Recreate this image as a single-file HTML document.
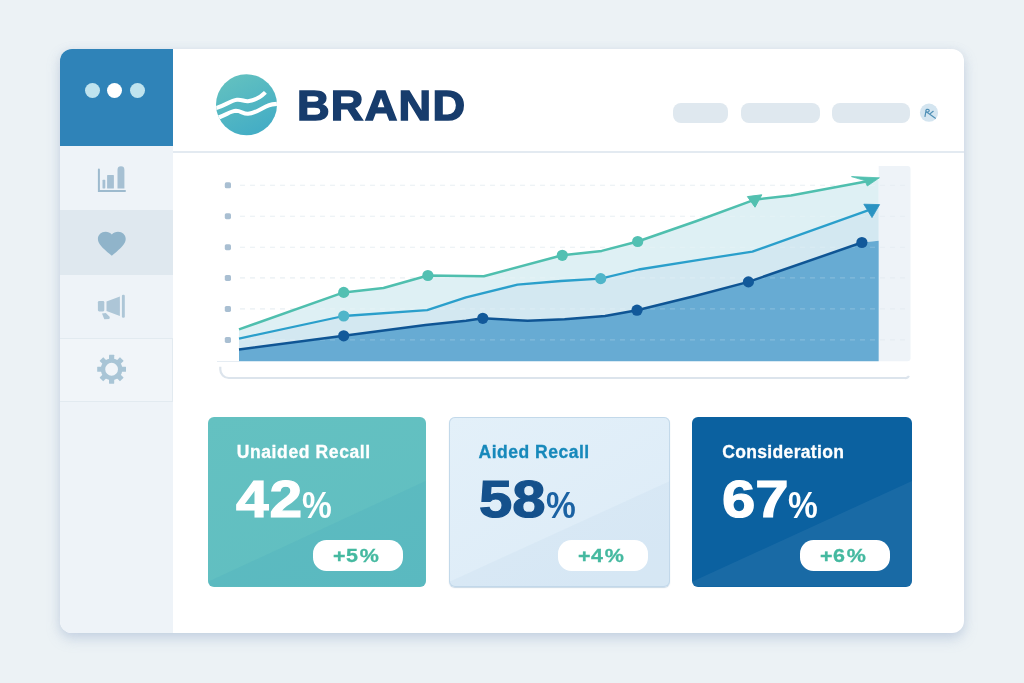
<!DOCTYPE html>
<html lang="en">
<head>
<meta charset="utf-8">
<title>Brand Dashboard</title>
<style>
*{box-sizing:border-box;margin:0;padding:0}
html,body{width:1024px;height:683px;overflow:hidden}
body{background:#ecf2f5;font-family:"Liberation Sans",sans-serif;position:relative}
.abs{position:absolute}
#win{left:60px;top:49px;width:904px;height:584px;background:#fff;border-radius:12px;box-shadow:0 6px 13px rgba(140,165,200,.34),0 1px 8px rgba(180,195,218,.26);overflow:hidden}
#side{left:0;top:0;width:112.5px;height:584px;background:#eef3f8}
#sidetop{left:0;top:0;width:112.5px;height:96.5px;background:#2f83b8}
.dot{width:15px;height:15px;border-radius:50%;top:34px;background:#bfe3ee}
#sel{left:0;top:161px;width:112.5px;height:65px;background:#dfe8ef}
#hline{left:112.5px;top:102px;width:792px;height:2px;background:#e3eaf1}
.pill{top:53.5px;height:20.5px;border-radius:8px;background:#dfe8ef}
#brand{font-weight:bold;font-size:43px;line-height:50px;color:#173c6c;letter-spacing:1.2px;white-space:nowrap;transform-origin:0 50%;transform:scaleX(1.05);-webkit-text-stroke:1.5px #173c6c}
.card{top:417px;width:218px;height:169.5px;border-radius:6px;overflow:hidden}
.card::before{content:'';position:absolute;left:0;top:0;right:0;bottom:0;clip-path:polygon(0 165px,100% 64px,100% 100%,0 100%);background:var(--ov)}
.card .t{position:absolute;left:30px;top:24.3px;font-weight:bold;font-size:17.5px;line-height:22px;white-space:nowrap;letter-spacing:.38px;transform-origin:0 50%;-webkit-text-stroke:.3px currentColor}
.card .n{position:absolute;left:28.5px;top:54.7px;font-weight:bold;font-size:51px;line-height:56px;white-space:nowrap;transform-origin:0 50%;transform:scaleX(1.16);-webkit-text-stroke:1.2px currentColor}
.card .p{position:absolute;left:94.5px;top:68.5px;font-weight:bold;font-size:36px;line-height:40px;white-space:nowrap;transform-origin:0 50%;transform:scaleX(.93)}
.badge{position:absolute;top:123px;width:90px;height:31px;border-radius:13.5px;background:#fff}
.badge span{position:absolute;left:20px;top:0;color:#45b9a0;font-weight:bold;font-size:18.5px;line-height:31px;white-space:nowrap;letter-spacing:.3px;transform-origin:0 50%;transform:scaleX(1.16);-webkit-text-stroke:.3px #45b9a0}
.badge i{font-style:normal;margin-left:1.4px}
</style>
</head>
<body>
<div id="win" class="abs">
  <div id="side" class="abs"></div>
  <div id="sidetop" class="abs"></div>
  <div class="abs dot" style="left:25px"></div>
  <div class="abs dot" style="left:47px;background:#fff"></div>
  <div class="abs dot" style="left:69.5px"></div>
  <div id="sel" class="abs"></div>
  <div class="abs" style="left:0;top:288.5px;width:112.5px;height:64px;background:rgba(255,255,255,.18);border:1px solid rgba(214,224,234,.55);border-left:0"></div>
  <div id="hline" class="abs"></div>
  <div class="abs pill" style="left:612.5px;width:55.5px"></div>
  <div class="abs pill" style="left:681px;width:78.5px"></div>
  <div class="abs pill" style="left:771.5px;width:78.5px"></div>
</div>
<!--CHART-->
<svg class="abs" style="left:0;top:0" width="1024" height="683" viewBox="0 0 1024 683">
<path d="M878.7 166H907.5a3 3 0 0 1 3 3V358.3a3 3 0 0 1-3 3H878.7Z" fill="#eef3f8"/>
<line x1="240" y1="185.3" x2="906" y2="185.3" stroke="#e6edf2" stroke-width="1.1" stroke-dasharray="5 5"/>
<rect x="224.8" y="182.3" width="6.2" height="6" rx="1.6" fill="#a9bfd2"/>
<line x1="240" y1="216.2" x2="906" y2="216.2" stroke="#e6edf2" stroke-width="1.1" stroke-dasharray="5 5"/>
<rect x="224.8" y="213.2" width="6.2" height="6" rx="1.6" fill="#a9bfd2"/>
<line x1="240" y1="247.2" x2="906" y2="247.2" stroke="#e6edf2" stroke-width="1.1" stroke-dasharray="5 5"/>
<rect x="224.8" y="244.2" width="6.2" height="6" rx="1.6" fill="#a9bfd2"/>
<line x1="240" y1="277.9" x2="906" y2="277.9" stroke="#e6edf2" stroke-width="1.1" stroke-dasharray="5 5"/>
<rect x="224.8" y="274.9" width="6.2" height="6" rx="1.6" fill="#a9bfd2"/>
<line x1="240" y1="308.9" x2="906" y2="308.9" stroke="#e6edf2" stroke-width="1.1" stroke-dasharray="5 5"/>
<rect x="224.8" y="305.9" width="6.2" height="6" rx="1.6" fill="#a9bfd2"/>
<line x1="240" y1="339.9" x2="906" y2="339.9" stroke="#e6edf2" stroke-width="1.1" stroke-dasharray="5 5"/>
<rect x="224.8" y="336.9" width="6.2" height="6" rx="1.6" fill="#a9bfd2"/>
<polygon points="239,329.4 343.7,292.4 383.5,288 427.9,275.5 483.8,276.2 562.3,255.3 601.7,250.9 637.7,241.5 696,221.3 754.8,199.7 791,195.4 878.7,179.5 878.7,206.5 752.4,251.6 696,260.4 638.7,269.5 600.7,278.6 561,281 517.5,284.6 466,297.4 427.2,310.2 343.7,316 239,338.6" fill="#def0f4"/>
<polygon points="239,338.6 343.7,316 427.2,310.2 466,297.4 517.5,284.6 561,281 600.7,278.6 638.7,269.5 696,260.4 752.4,251.6 878.7,206.5 878.7,240.8 861.9,242.5 748.4,281.9 696,295.7 637,310.2 605,315.9 564.6,319.3 527.6,320.7 482.8,318.3 466,320.7 425.5,325 343.7,335.8 239,349.5" fill="#d3e8f1"/>
<polygon points="239,349.5 343.7,335.8 425.5,325 466,320.7 482.8,318.3 527.6,320.7 564.6,319.3 605,315.9 637,310.2 696,295.7 748.4,281.9 861.9,242.5 878.7,240.8 878.7,361.3 239,361.3" fill="#67abd3"/>
<line x1="240" y1="185.3" x2="878" y2="185.3" stroke="#fff" stroke-opacity=".2" stroke-width="1.1" stroke-dasharray="5 5"/>
<line x1="240" y1="216.2" x2="878" y2="216.2" stroke="#fff" stroke-opacity=".2" stroke-width="1.1" stroke-dasharray="5 5"/>
<line x1="240" y1="247.2" x2="878" y2="247.2" stroke="#fff" stroke-opacity=".2" stroke-width="1.1" stroke-dasharray="5 5"/>
<line x1="240" y1="277.9" x2="878" y2="277.9" stroke="#fff" stroke-opacity=".2" stroke-width="1.1" stroke-dasharray="5 5"/>
<line x1="240" y1="308.9" x2="878" y2="308.9" stroke="#fff" stroke-opacity=".2" stroke-width="1.1" stroke-dasharray="5 5"/>
<line x1="240" y1="339.9" x2="878" y2="339.9" stroke="#fff" stroke-opacity=".2" stroke-width="1.1" stroke-dasharray="5 5"/>
<polyline points="239,329.4 343.7,292.4 383.5,288 427.9,275.5 483.8,276.2 562.3,255.3 601.7,250.9 637.7,241.5 696,221.3 754.8,199.7 791,195.4 866,181.6" fill="none" stroke="#4fbfae" stroke-width="2.5" stroke-linejoin="round"/>
<polyline points="239,338.6 343.7,316 427.2,310.2 466,297.4 517.5,284.6 561,281 600.7,278.6 638.7,269.5 696,260.4 752.4,251.6 868,210.3" fill="none" stroke="#2a9fcb" stroke-width="2.3" stroke-linejoin="round"/>
<polyline points="239,349.5 343.7,335.8 425.5,325 466,320.7 482.8,318.3 527.6,320.7 564.6,319.3 605,315.9 637,310.2 696,295.7 748.4,281.9 861.9,242.5" fill="none" stroke="#0f5594" stroke-width="2.5" stroke-linejoin="round"/>
<circle cx="343.7" cy="292.4" r="5.6" fill="#52c0b2"/>
<circle cx="427.9" cy="275.5" r="5.6" fill="#52c0b2"/>
<circle cx="562.3" cy="255.3" r="5.6" fill="#52c0b2"/>
<circle cx="637.7" cy="241.5" r="5.6" fill="#52c0b2"/>
<circle cx="343.7" cy="316" r="5.6" fill="#4fb5c9"/>
<circle cx="600.7" cy="278.6" r="5.6" fill="#4fb5c9"/>
<circle cx="343.7" cy="335.8" r="5.6" fill="#12599a"/>
<circle cx="482.8" cy="318.3" r="5.6" fill="#12599a"/>
<circle cx="637" cy="310.2" r="5.6" fill="#12599a"/>
<circle cx="748.4" cy="281.9" r="5.6" fill="#12599a"/>
<circle cx="861.9" cy="242.5" r="5.6" fill="#12599a"/>
<polygon points="747.4,196.6 761.8,194.8 755,207.2" fill="#52c0b0" stroke="#52c0b0" stroke-width="1" stroke-linejoin="round"/>
<polygon points="851.5,176.6 879.4,177.8 867.3,186 864.8,180.6" fill="#52c0b0" stroke="#52c0b0" stroke-width=".8" stroke-linejoin="round"/>
<polygon points="863.8,204.2 879.6,204.6 872,217.6" fill="#2a93c2" stroke="#2a93c2" stroke-width=".8" stroke-linejoin="round"/>
<path d="M220.3 366.8V369.5a8.5 8.5 0 0 0 8.5 8.5H905a4 4 0 0 0 4-2" fill="none" stroke="#dce4ec" stroke-width="2.2"/>
<line x1="217" y1="361.5" x2="239" y2="361.5" stroke="#e6edf3" stroke-width="1"/>
</svg>
<!--/CHART-->
<!--ICONS-->
<svg class="abs" style="left:0;top:0" width="1024" height="683" viewBox="0 0 1024 683">
<defs>
<linearGradient id="lg" x1="0" y1="0" x2="0.5" y2="1"><stop offset="0" stop-color="#66c3bf"/><stop offset="1" stop-color="#45aec5"/></linearGradient>
<clipPath id="lc"><circle cx="246.5" cy="104.7" r="30.5"/></clipPath>
</defs>
<circle cx="246.5" cy="104.7" r="30.5" fill="url(#lg)"/>
<g clip-path="url(#lc)" fill="none" stroke="#fff" stroke-width="4.1">
<path d="M214 108.6C224 106.5 230 100.6 237 99.8C242 99.4 244 101.5 248 101.2C256 100.5 261 96.8 265.4 92.4" stroke-linecap="butt"/>
<path d="M216 118.3C226 115.5 230 111 236 110.8C241 110.8 243 114 248 113.8C256 113.5 262 107.5 269 105.2C272 104.2 275 104 279 103.7"/>
</g>
<g fill="#a6c0d3">
<path d="M97.9 169.6a1 1 0 0 1 2 0V190H125a1 1 0 0 1 0 2H97.9Z" fill="#9dbace"/>
<rect x="102.5" y="179.8" width="2.8" height="8.6" rx=".6"/>
<rect x="107.1" y="175" width="6.8" height="13.6" rx=".5"/>
<path d="M117.5 188.6V169.7a3.45 3.45 0 0 1 6.9 0V188.6Z"/>
</g>
<path transform="translate(95.12 227.88) scale(1.39 1.308)" fill="#90b4ca" d="M12 21.35l-1.45-1.32C5.4 15.36 2 12.28 2 8.5 2 5.42 4.42 3 7.5 3c1.74 0 3.41.81 4.5 2.09C13.09 3.81 14.76 3 16.5 3 19.58 3 22 5.42 22 8.5c0 3.78-3.4 6.86-8.55 11.54L12 21.35z"/>
<g fill="#adc6d7">
<rect x="97.9" y="301" width="6.4" height="10.4" rx="1.3"/>
<polygon points="106.5,301.4 119.9,296.6 119.9,316 106.5,310.9"/>
<rect x="121.9" y="294.8" width="2.9" height="22.9" rx="1.2"/>
<polygon points="102,313.6 105.8,313.1 109.8,317.1 109.3,319 104.3,319.3"/>
</g>
<g fill="#a9c5d6">
<rect x="109.0" y="354.85" width="5.2" height="6" rx=".4" transform="rotate(0 111.6 369.25)"/>
<rect x="109.0" y="354.85" width="5.2" height="6" rx=".4" transform="rotate(45 111.6 369.25)"/>
<rect x="109.0" y="354.85" width="5.2" height="6" rx=".4" transform="rotate(90 111.6 369.25)"/>
<rect x="109.0" y="354.85" width="5.2" height="6" rx=".4" transform="rotate(135 111.6 369.25)"/>
<rect x="109.0" y="354.85" width="5.2" height="6" rx=".4" transform="rotate(180 111.6 369.25)"/>
<rect x="109.0" y="354.85" width="5.2" height="6" rx=".4" transform="rotate(225 111.6 369.25)"/>
<rect x="109.0" y="354.85" width="5.2" height="6" rx=".4" transform="rotate(270 111.6 369.25)"/>
<rect x="109.0" y="354.85" width="5.2" height="6" rx=".4" transform="rotate(315 111.6 369.25)"/>
<circle cx="111.6" cy="369.25" r="8.6" fill="none" stroke="#a9c5d6" stroke-width="4.4"/>
</g>
<circle cx="929" cy="112.7" r="9.1" fill="#d4e5f0"/>
<g fill="none" stroke="#4f90b6" stroke-width="1.2" stroke-linecap="round"><path d="M925 116.3L925.9 111.4C925.3 109.2 928.4 108.6 929.2 110.3C929.6 111.5 927.9 112.3 926.7 112"/><path d="M926.6 112L935.4 118.2"/><path d="M930.4 113.4L933.2 111.3"/></g>
</svg>
<!--/ICONS-->
<div id="brand" class="abs" style="left:297px;top:79.5px">BRAND</div>

<div class="abs card" style="left:207.5px;background:linear-gradient(160deg,#64c1c1,#60bec1);color:#fff;--ov:rgba(60,160,185,.15)">
  <div class="t" style="left:29.2px;letter-spacing:.62px">Unaided Recall</div>
  <div class="n" style="letter-spacing:.8px;transform:scaleX(1.15)">42</div><div class="p">%</div>
  <div class="badge" style="left:105.5px"><span>+5<i>%</i></span></div>
</div>
<div class="abs card" style="left:449px;width:221px;background:linear-gradient(150deg,#e3f0f9,#dcebf7);box-shadow:inset 0 0 0 1px #c3d9ea,0 1px 1px rgba(150,180,205,.5);color:#15518c;--ov:rgba(190,215,235,.2)">
  <div class="t" style="left:29.6px;letter-spacing:.5px;color:#1789bb">Aided Recall</div>
  <div class="n" style="left:29.7px;transform:scaleX(1.175)">58</div><div class="p" style="left:97px;color:#1b62a3">%</div>
  <div class="badge" style="left:108.5px"><span>+4<i>%</i></span></div>
</div>
<div class="abs card" style="left:691.5px;width:220.5px;background:#0b61a0;color:#fff;--ov:rgba(255,255,255,.06)">
  <div class="t" style="left:30.8px;letter-spacing:.33px">Consideration</div>
  <div class="n" style="left:30.5px;transform:scaleX(1.175)">67</div><div class="p" style="left:96.5px">%</div>
  <div class="badge" style="left:108.5px"><span>+6<i>%</i></span></div>
</div>
</body>
</html>
